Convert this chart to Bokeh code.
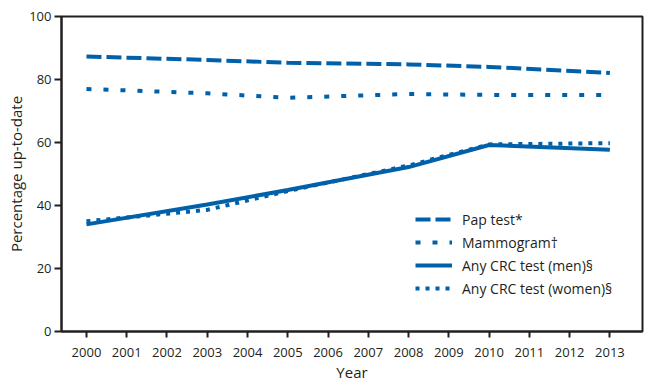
from bokeh.plotting import figure
from bokeh.models import Range1d, FixedTicker, ColumnDataSource
from bokeh.embed import file_html
from bokeh.resources import INLINE

years = [2000, 2003, 2005, 2008, 2010, 2013]
pap = [87.3, 86.2, 85.3, 84.8, 84.0, 82.1]
mammogram = [77.0, 75.6, 74.2, 75.4, 75.1, 75.1]
crc_men = [34.0, 40.3, 44.9, 52.2, 59.2, 57.7]
crc_women = [35.0, 38.6, 44.6, 52.7, 59.4, 59.8]

x_ticks = list(range(2000, 2014))
y_ticks = [0, 20, 40, 60, 80, 100]

BLUE = "#0061AA"
DARK = "#231F20"
FONT = "Open Sans"

p = figure(width=644, height=384, output_backend="svg", toolbar_location=None,
           x_range=Range1d(1999.38, 2013.81), y_range=Range1d(0, 100),
           min_border_left=61, min_border_top=16, min_border_right=2, min_border_bottom=52)
p.grid.visible = False
p.outline_line_color = DARK
p.outline_line_width = 2
p.background_fill_color = "white"
p.border_fill_color = "white"

src = ColumnDataSource(dict(year=years, pap=pap, mam=mammogram, men=crc_men, women=crc_women))

p.line("year", "pap", source=src, color=BLUE, line_width=4, line_dash="15 5", legend_label="Pap test*")
p.line("year", "mam", source=src, color=BLUE, line_width=4, line_dash="5 12", legend_label="Mammogram\u2020")
p.line("year", "women", source=src, color=BLUE, line_width=4, line_dash="4 6", legend_label="Any CRC test (women)\u00a7")
p.line("year", "men", source=src, color=BLUE, line_width=4, legend_label="Any CRC test (men)\u00a7")

for ax in (p.xaxis[0], p.yaxis[0]):
    ax.axis_line_color = DARK
    ax.axis_line_width = 2
    ax.major_tick_line_color = DARK
    ax.major_tick_line_width = 2
    ax.major_tick_in = 0
    ax.minor_tick_line_color = None
    ax.major_label_text_font = FONT
    ax.major_label_text_font_size = "13px"
    ax.major_label_text_color = DARK
    ax.axis_label_text_font = FONT
    ax.axis_label_text_font_size = "15px"
    ax.axis_label_text_font_style = "normal"
    ax.axis_label_text_color = DARK

p.xaxis.ticker = FixedTicker(ticks=x_ticks)
p.yaxis.ticker = FixedTicker(ticks=y_ticks)
p.xaxis.major_tick_out = 6
p.yaxis.major_tick_out = 7
p.xaxis.major_label_standoff = 10
p.yaxis.major_label_standoff = 3
p.xaxis.axis_label = "Year"
p.yaxis.axis_label = "Percentage up-to-date"
p.xaxis.axis_label_standoff = 2
p.yaxis.axis_label_standoff = 0

leg = p.legend[0]
items = leg.items
leg.items = [items[0], items[1], items[3], items[2]]
leg.location = (354, 33)
leg.border_line_color = None
leg.background_fill_alpha = 0
leg.padding = 0
leg.margin = 0
leg.spacing = 3
leg.glyph_width = 37
leg.glyph_height = 20
leg.label_height = 20
leg.label_standoff = 10
leg.label_text_font = FONT
leg.label_text_font_size = "14px"
leg.label_text_color = DARK

open("out.html", "w").write(file_html(p, INLINE))
